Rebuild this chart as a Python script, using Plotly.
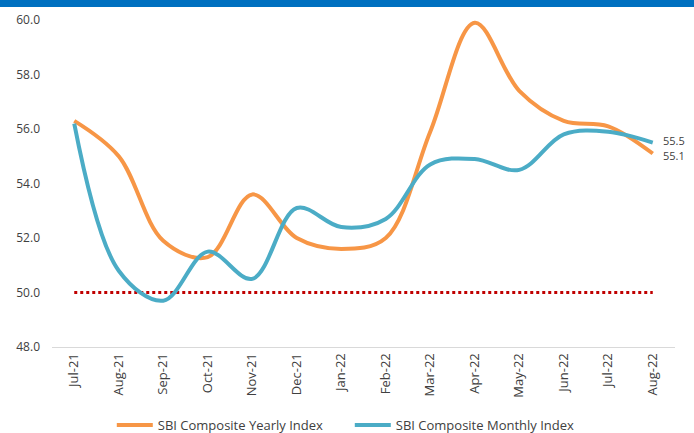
import plotly.graph_objects as go

months = ["Jul-21", "Aug-21", "Sep-21", "Oct-21", "Nov-21", "Dec-21", "Jan-22",
          "Feb-22", "Mar-22", "Apr-22", "May-22", "Jun-22", "Jul-22", "Aug-22"]
yearly = [56.3, 55.0, 51.9, 51.3, 53.6, 52.0, 51.6, 52.0, 55.9, 59.9, 57.4, 56.3, 56.1, 55.1]
monthly = [56.2, 50.8, 49.7, 51.5, 50.5, 53.1, 52.4, 52.7, 54.7, 54.9, 54.5, 55.8, 55.9, 55.5]
threshold = [50.0] * len(months)
y_ticks = [48, 50, 52, 54, 56, 58, 60]

ORANGE = "#F79646"
TEAL = "#4BACC6"
TXT = "#404040"
FONT = "Open Sans"

fig = go.Figure()
fig.add_trace(go.Scatter(x=months, y=threshold, mode="lines",
                         line=dict(color="#C00000", width=3, dash="dot"),
                         showlegend=False, hoverinfo="skip", cliponaxis=False))
fig.add_trace(go.Scatter(x=months, y=yearly, mode="lines", name="SBI Composite Yearly Index",
                         line=dict(color=ORANGE, width=4, shape="spline", smoothing=1.0),
                         cliponaxis=False))
fig.add_trace(go.Scatter(x=months, y=monthly, mode="lines", name="SBI Composite Monthly Index",
                         line=dict(color=TEAL, width=4, shape="spline", smoothing=1.0),
                         cliponaxis=False))

fig.add_annotation(x=months[-1], y=monthly[-1], text=f"{monthly[-1]:.1f}", showarrow=False,
                   xanchor="left", xshift=8, yshift=2, font=dict(family=FONT, size=11, color=TXT))
fig.add_annotation(x=months[-1], y=yearly[-1], text=f"{yearly[-1]:.1f}", showarrow=False,
                   xanchor="left", xshift=8, yshift=-2, font=dict(family=FONT, size=11, color=TXT))

plot_h = 433 - 20 - 86
fig.add_shape(type="rect", xref="paper", yref="paper", x0=-1, x1=2,
              y0=1 + 13 / plot_h, y1=1 + 30 / plot_h,
              fillcolor="#0070C0", line=dict(width=0), layer="above")

fig.update_layout(
    width=694, height=433,
    margin=dict(l=52, r=19, t=20, b=86, autoexpand=False),
    paper_bgcolor="white", plot_bgcolor="white",
    font=dict(family=FONT, size=11, color=TXT),
    legend=dict(orientation="h", x=0.478, xanchor="center", y=-78 / plot_h, yanchor="middle",
                font=dict(family=FONT, size=13, color=TXT), itemwidth=36,
                entrywidth=187, entrywidthmode="pixels",
                traceorder="normal"),
    xaxis=dict(type="category", range=[-0.5, 13.5], tickangle=-90, showgrid=False,
               showline=True, linecolor="#D9D9D9", linewidth=1, ticks="",
               automargin=False,
               tickfont=dict(family=FONT, size=13, color=TXT)),
    yaxis=dict(range=[48, 60], tickvals=y_ticks, ticktext=[f"{v:.1f}" for v in y_ticks],
               showgrid=False, zeroline=False, showline=False, ticks="",
               automargin=False, ticklabelstandoff=11,
               tickfont=dict(family=FONT, size=12, color=TXT)),
)

fig.write_html("out.html", config={"displayModeBar": False},
               post_script="document.body.style.margin='0';")
